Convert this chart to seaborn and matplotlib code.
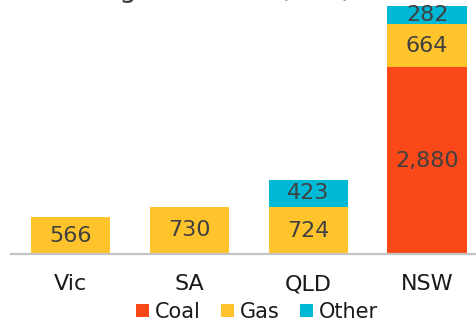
import numpy as np
import pandas as pd
import matplotlib
matplotlib.use("Agg")
import matplotlib.pyplot as plt
import seaborn as sns
from matplotlib.patches import Patch

states = ["Vic", "SA", "QLD", "NSW"]
coal = [0, 0, 0, 2880]
gas = [566, 730, 724, 664]
other = [0, 0, 423, 282]
series_names = ["Coal", "Gas", "Other"]
colors = {"Coal": "#FA4818", "Gas": "#FFC42C", "Other": "#00B9D6"}
title = "Thermal generation (MW)"

sns.set_theme(style="white")
plt.rcParams["font.family"] = ["DejaVu Sans"]

df = pd.DataFrame({"state": states, "Coal": coal, "Gas": gas, "Other": other})
df["c1"] = df["Coal"]
df["c2"] = df["Coal"] + df["Gas"]
df["c3"] = df["c2"] + df["Other"]

fig = plt.figure(figsize=(4.77, 3.23), dpi=100)
ax = fig.add_axes([11 / 477, 69 / 323, 466 / 477, 254 / 323])

for col, name in [("c3", "Other"), ("c2", "Gas"), ("c1", "Coal")]:
    sns.barplot(data=df, x="state", y=col, color=colors[name], width=0.667,
                saturation=1, ax=ax, order=states, linewidth=0)

ax.set_xlim(-0.5, 3.42)
ax.set_ylim(0, 3920)
ax.set_xlabel("")
ax.set_ylabel("")
ax.set_yticks([])
for s in ["top", "right", "left"]:
    ax.spines[s].set_visible(False)
ax.spines["bottom"].set_color("#C4C4C4")
ax.spines["bottom"].set_linewidth(1.6)
ax.tick_params(axis="x", length=0, pad=14.5, labelsize=16, labelcolor="#1a1a1a")

for i in range(len(states)):
    base = 0
    for name, vals in zip(series_names, [coal, gas, other]):
        v = vals[i]
        if v > 0:
            ax.text(i, base + v / 2, f"{v:,}", ha="center", va="center",
                    fontsize=16, color="#404040")
        base += v

handles = [Patch(facecolor=colors[n], edgecolor="none", label=n) for n in series_names]
fig.legend(handles=handles, loc="center", bbox_to_anchor=(257 / 477, 1 - 312 / 323),
           ncol=3, frameon=False, fontsize=15, handlelength=0.62, handleheight=0.62,
           handletextpad=0.3, columnspacing=0.95, labelcolor="#1a1a1a", borderpad=0)

fig.text(352 / 477, 1 + 3.5 / 323, title, ha="right", va="baseline", fontsize=20,
         color="#404040")

fig.savefig("out.png", dpi=100)
